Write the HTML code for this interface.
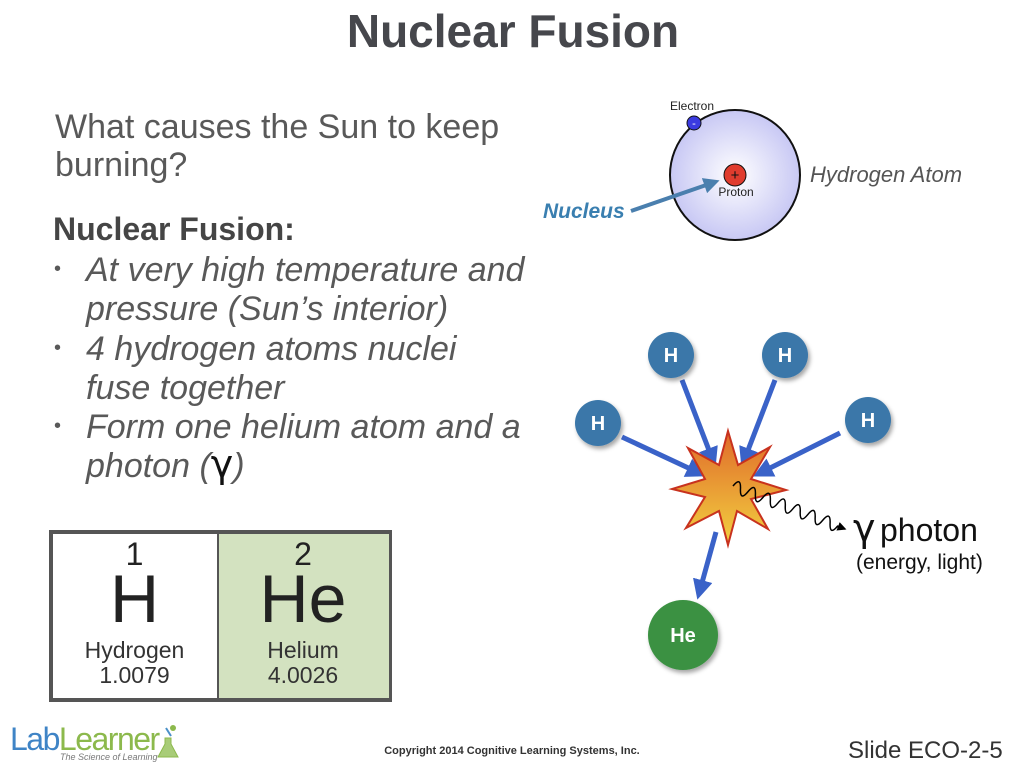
<!DOCTYPE html>
<html><head><meta charset="utf-8"><style>
body{margin:0;width:1024px;height:768px;background:#fff;position:relative;overflow:hidden;font-family:"Liberation Sans",sans-serif}
.a{position:absolute;white-space:nowrap}
.q{font-size:34px;color:#595959}
.b{font-size:34px;font-style:italic;color:#595959;left:86px}
.d{left:54px;font-size:20px;color:#595959}
</style></head><body>
<div class="a" style="left:0;width:1026px;text-align:center;top:4px;font-size:46px;font-weight:bold;color:#46474c">Nuclear Fusion</div>
<div class="a q" style="left:55px;top:108px">What causes the Sun to keep</div>
<div class="a q" style="left:55px;top:146px">burning?</div>
<div class="a" style="left:53px;top:211px;font-size:32px;font-weight:bold;color:#454545">Nuclear Fusion:</div>
<div class="a d" style="top:258px">•</div><div class="a b" style="top:251px">At very high temperature and</div>
<div class="a b" style="top:290px">pressure (Sun’s interior)</div>
<div class="a d" style="top:337px">•</div><div class="a b" style="top:330px">4 hydrogen atoms nuclei</div>
<div class="a b" style="top:369px">fuse together</div>
<div class="a d" style="top:415px">•</div><div class="a b" style="top:408px">Form one helium atom and a</div>
<div class="a b" style="top:447px">photon (<span style="font-style:normal;font-size:38px;line-height:34px;color:#111;font-family:'DejaVu Sans',sans-serif">γ</span>)</div>

<div class="a" style="left:49px;top:530px;width:335px;height:164px;border:4px solid #555;background:#fff"></div>
<div class="a" style="left:217px;top:534px;width:170px;height:164px;background:#d3e2c0;border-left:2px solid #555"></div>
<div class="a" style="left:53px;width:163px;text-align:center;top:536px;font-size:32px;color:#222">1</div>
<div class="a" style="left:53px;width:163px;text-align:center;top:560px;font-size:68px;color:#222">H</div>
<div class="a" style="left:53px;width:163px;text-align:center;top:638px;font-size:23px;line-height:25px;color:#333">Hydrogen<br>1.0079</div>
<div class="a" style="left:219px;width:168px;text-align:center;top:536px;font-size:32px;color:#222">2</div>
<div class="a" style="left:219px;width:168px;text-align:center;top:560px;font-size:68px;color:#222">He</div>
<div class="a" style="left:219px;width:168px;text-align:center;top:638px;font-size:23px;line-height:25px;color:#333">Helium<br>4.0026</div>

<div class="a" style="left:10px;top:721px;font-size:32px;letter-spacing:-1.5px"><span style="color:#3f84c6">Lab</span><span style="color:#8cb94c">Learner</span></div>
<div class="a" style="left:60px;top:752px;font-size:9px;font-style:italic;color:#777">The Science of Learning</div>
<svg class="a" style="left:156px;top:724px" width="26" height="36"><path d="M9 14 L9 20 L2 33 L22 33 L15 20 L15 14Z" fill="#a8cc78" stroke="#8cb94c"/><path d="M10 4 L15 12" stroke="#4a90c8" stroke-width="2"/><circle cx="17" cy="4" r="3" fill="#8cb94c"/></svg>
<div class="a" style="left:0;width:1024px;text-align:center;top:745px;font-size:11px;font-weight:bold;color:#333">Copyright 2014 Cognitive Learning Systems, Inc.</div>
<div class="a" style="left:848px;top:737px;font-size:24px;color:#333">Slide ECO-2-5</div>

<svg class="a" style="left:0;top:0" width="1024" height="768">
<defs>
<radialGradient id="g"><stop offset="0" stop-color="#fff"/><stop offset="1" stop-color="#c8c8f4"/></radialGradient>
<linearGradient id="s" x1="0" y1="0" x2="0" y2="1"><stop offset="0" stop-color="#e06a2a"/><stop offset="1" stop-color="#f2d040"/></linearGradient>
<marker id="m" markerWidth="4" markerHeight="4" refX="2" refY="2" orient="auto"><path d="M0 0L4 2L0 4Z" fill="#3a62c8"/></marker>
<marker id="n" markerWidth="4" markerHeight="4" refX="2" refY="2" orient="auto"><path d="M0 0L4 2L0 4Z" fill="#4a7fae"/></marker>
<marker id="k" markerWidth="6" markerHeight="6" refX="5" refY="3" orient="auto"><path d="M0 0L6 3L0 6Z" fill="#000"/></marker>
<filter id="sh"><feDropShadow dx="2" dy="3" stdDeviation="2" flood-opacity="0.35"/></filter>
</defs>
<circle cx="735" cy="175" r="65" fill="url(#g)" stroke="#111" stroke-width="2"/>
<circle cx="694" cy="123" r="7" fill="#3b3be0" stroke="#111"/><text x="694" y="127" font-size="11" text-anchor="middle" fill="#fff">-</text>
<circle cx="735" cy="175" r="11" fill="#e03c2e" stroke="#111"/><text x="735" y="180" font-size="15" text-anchor="middle" fill="#111">+</text>
<text x="692" y="110" font-size="12" text-anchor="middle" fill="#222">Electron</text>
<text x="736" y="196" font-size="12" text-anchor="middle" fill="#222">Proton</text>
<text x="810" y="182" font-size="22" font-style="italic" fill="#555">Hydrogen Atom</text>
<text x="543" y="218" font-size="21" font-style="italic" font-weight="bold" fill="#3a7fb0">Nucleus</text>
<line x1="631" y1="211" x2="712" y2="183" stroke="#4a7fae" stroke-width="4" marker-end="url(#n)"/>

<g stroke="#3a62c8" stroke-width="5" marker-end="url(#m)">
<line x1="682" y1="380" x2="712" y2="458"/>
<line x1="775" y1="380" x2="745" y2="458"/>
<line x1="622" y1="437" x2="697" y2="472"/>
<line x1="840" y1="433" x2="762" y2="472"/>
<line x1="716" y1="532" x2="700" y2="590"/>
</g>
<polygon points="728,431 738,465 770,447 751,479 786,490 751,499 768,529 737,511 728,545 719,511 686,528 705,497 672,489 705,479 688,448 719,465" fill="url(#s)" stroke="#c8321e" stroke-width="2"/>
<path transform="translate(733,486) rotate(21)" d="M0 0 q4 -12 8 0 q4 12 8 0 q4 -12 8 0 q4 12 8 0 q4 -12 8 0 q4 12 8 0 q4 -12 8 0 q4 12 8 0 q4 -12 8 0 q4 12 8 0 q4 -12 8 0 q4 12 8 0 q4 -12 8 0 q4 12 8 0 l8 0" fill="none" stroke="#000" stroke-width="1.5" marker-end="url(#k)"/>
<g filter="url(#sh)">
<circle cx="671" cy="355" r="23" fill="#3a77a9"/><circle cx="785" cy="355" r="23" fill="#3a77a9"/>
<circle cx="598" cy="423" r="23" fill="#3a77a9"/><circle cx="868" cy="420" r="23" fill="#3a77a9"/>
<circle cx="683" cy="635" r="35" fill="#3a9142"/>
</g>
<g font-size="20" font-weight="bold" fill="#fff" text-anchor="middle">
<text x="671" y="362">H</text><text x="785" y="362">H</text><text x="598" y="430">H</text><text x="868" y="427">H</text><text x="683" y="642">He</text>
</g>
<text x="853" y="541" font-size="38" font-family="DejaVu Sans" fill="#111">γ</text>
<text x="880" y="541" font-size="32" fill="#111">photon</text>
<text x="856" y="569" font-size="21" fill="#111">(energy, light)</text>
</svg>
</body></html>
